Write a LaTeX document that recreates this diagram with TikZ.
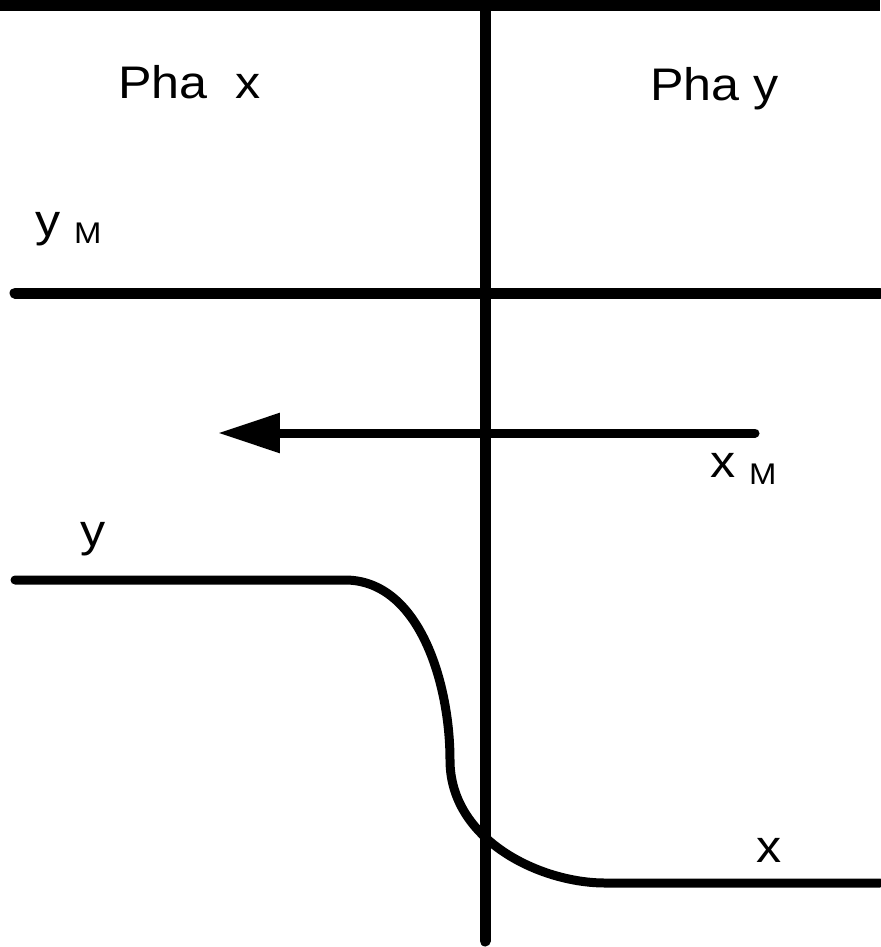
\documentclass[tikz,border=0pt]{standalone}
\usepackage{fontspec}
\setmainfont{Liberation Sans}[FakeStretch=1.1]
\usetikzlibrary{arrows.meta}
\tikzset{
  axisline/.style={line width=0.22cm,line cap=round},
  flowline/.style={line width=0.18cm,line cap=round},
  lbl/.style={inner sep=0pt,anchor=base west,font=\fontsize{26}{30}\selectfont},
}
\newcommand{\subM}{{\fontsize{17}{17}\selectfont\raisebox{-0.25em}{M}}}

\begin{document}
\begin{tikzpicture}[x=0.02cm,y=-0.02cm]
\useasboundingbox (0,0) rectangle (880,947);
% frame and axes
\fill (0,0) rectangle (880,11);
\coordinate (axtop) at (485,0);
\coordinate (axbot) at (485,941);
\coordinate (yml) at (15,293);
\coordinate (ymr) at (880,293);
\draw[axisline] (axtop) -- (axbot);
\draw[axisline] (yml) -- (ymr);
% flux arrow
\coordinate (xmstart) at (755,433);
\coordinate (xmtip) at (218,433);
\draw[flowline,-{Triangle[length=1.24cm,width=0.76cm]}] (xmstart) -- (xmtip);
% profile
\coordinate (ya) at (15,580);
\coordinate (yb) at (345,580);
\coordinate (mid) at (450,760);
\coordinate (xb) at (605,883);
\coordinate (xa) at (880,883);
\draw[flowline,line join=round] (ya) -- (yb)
  .. controls (420,580) and (450,685) .. (mid)
  .. controls (450,840) and (540,883) .. (xb) -- (xa);
% labels
\node[lbl] (phax) at (118,98) {Pha\ \ x};
\node[lbl] (phay) at (650,100) {Pha y};
\node[lbl] (ymlbl) at (35,236) {y\hspace{0.3em}\subM};
\node[lbl] (xmlbl) at (710,477) {x\hspace{0.3em}\subM};
\node[lbl] (ylbl) at (80,546) {y};
\node[lbl] (xlbl) at (756,862) {x};
\end{tikzpicture}
\end{document}
